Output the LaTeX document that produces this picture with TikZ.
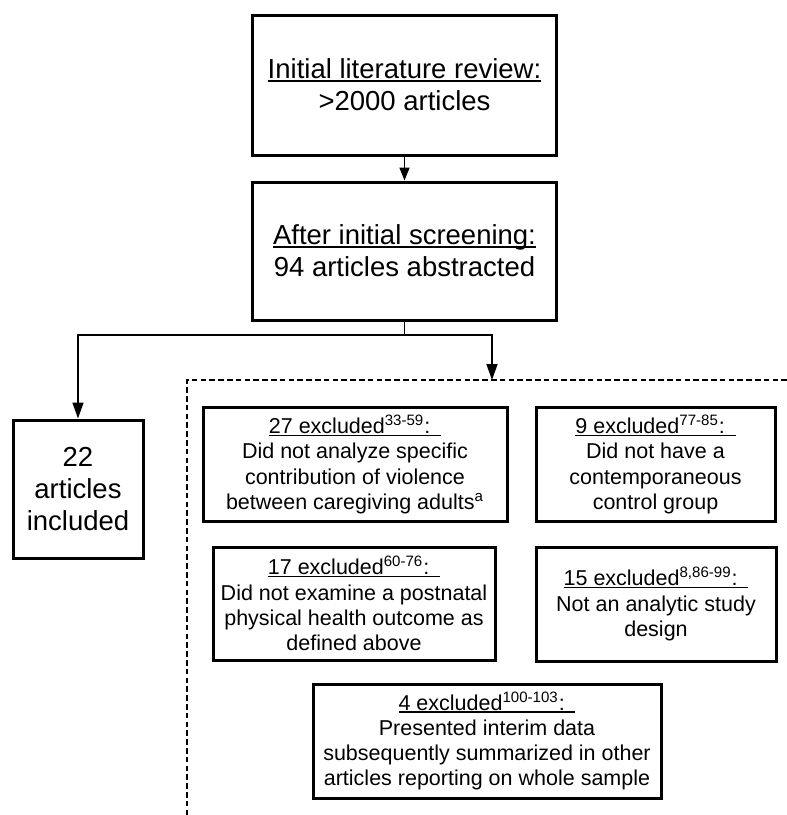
\documentclass[tikz,border=0pt]{standalone}
\usepackage{fontspec}
\setmainfont{Liberation Sans}
\usepackage{tikz}
\usetikzlibrary{arrows.meta}

\newsavebox\headbox
\newcommand{\headline}[1]{\sbox\headbox{#1}\rlap{\rule[-0.11em]{\wd\headbox}{0.055em}}\usebox\headbox}

\begin{document}
\begin{tikzpicture}[x=0.5pt,y=-0.5pt]
            \tikzset{Box/.style={%
                    shape=rectangle,%
                    draw=black,%
                    line width=1.5pt,%
                    inner sep=0pt,%
                    align=center,%
                    font=\fontsize{13.75pt}{16pt}\selectfont,%
                }}
            \tikzset{SmallBox/.style={%
                    Box,%
                    font=\fontsize{10.75pt}{12.6pt}\selectfont,%
                }}
            \tikzset{Link/.style={%
                    line width=0.75pt,%
                    -{Triangle[length=8pt,width=5.5pt]},%
                }}
        
                \useasboundingbox (0,0) rectangle (787,815);
        
                \node[Box,minimum width=152pt,minimum height=70pt] (review) at (404.5,85) {\headline{Initial literature review:}\\>2000 articles};
                \node[Box,minimum width=152pt,minimum height=69pt] (screening) at (404.5,251) {\headline{After initial screening:}\\94 articles abstracted};
                \node[Box,minimum width=65pt,minimum height=69pt] (included) at (78,489) {22\\articles\\included};
        
                \node[SmallBox,minimum width=152pt,minimum height=57pt] (ex27) at (355,464.5) {\headline{27 excluded\textsuperscript{33-59}:\hspace{0.5em}}\\Did not analyze specific\\contribution of violence\\between caregiving adults\textsuperscript{a}};
                \node[SmallBox,minimum width=119.5pt,minimum height=57pt] (ex9) at (655.5,464.5) {\headline{9 excluded\textsuperscript{77-85}:\hspace{0.5em}}\\Did not have a\\contemporaneous\\control group};
                \node[SmallBox,minimum width=141pt,minimum height=56.5pt] (ex17) at (354,603.5) {\headline{17 excluded\textsuperscript{60-76}:\hspace{0.5em}}\\Did not examine a postnatal\\physical health outcome as\\defined above};
                \node[SmallBox,minimum width=120pt,minimum height=57pt] (ex15) at (656,604) {\headline{15 excluded\textsuperscript{8,86-99}:\hspace{0.5em}}\\Not an analytic study\\design};
                \node[SmallBox,minimum width=174pt,minimum height=57pt] (ex4) at (487,741) {\headline{4 excluded\textsuperscript{100-103}:\hspace{0.5em}}\\Presented interim data\\subsequently summarized in other\\articles reporting on whole sample};
        
                % split below the screening box
                \coordinate (split) at (404.5,335);
                \coordinate (exclTop) at (492,380);
                \coordinate (dashCorner) at (187,380);
                \coordinate (dashRight) at (787,380);
                \coordinate (dashBottom) at (187,815);
        
                \path (review) edge[Link,-{Triangle[length=6.5pt,width=5pt]}] (screening);
                \draw[line width=0.75pt] (screening) -- (split);
                \draw[Link] (split) -| (included);
                \draw[Link] (split) -| (exclTop);
        
                % excluded group
                \draw[line width=1.4pt,dash pattern=on 2.8pt off 1.6pt] (dashRight) -- (dashCorner) -- (dashBottom);
        \end{tikzpicture}
\end{document}
